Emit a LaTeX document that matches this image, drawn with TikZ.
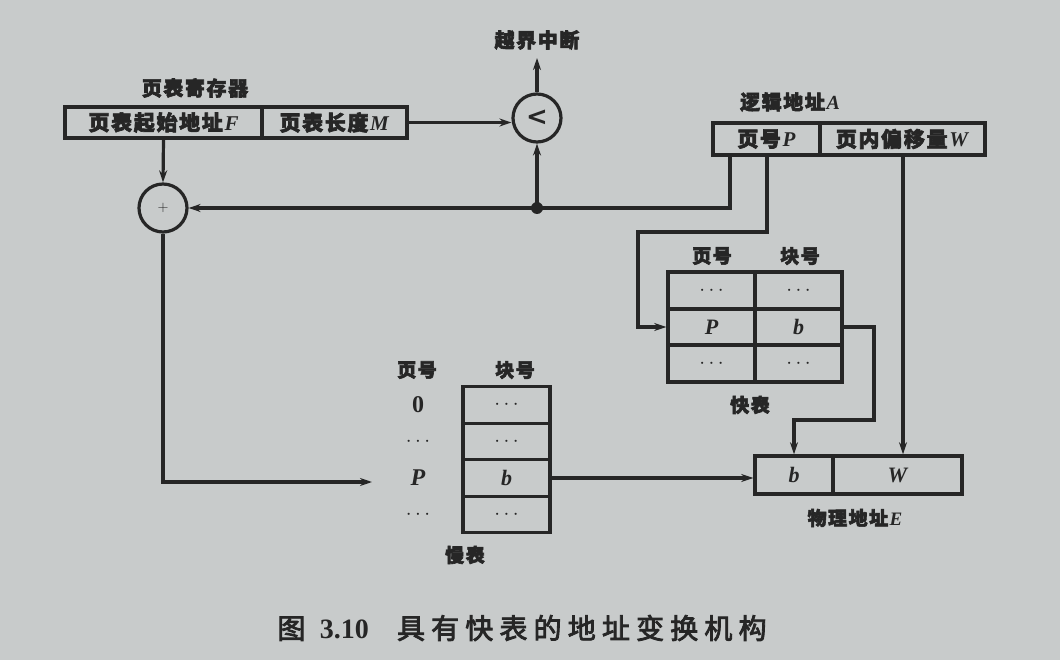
\documentclass[tikz,border=0pt]{standalone}
\usepackage{fontspec}
\setmainfont{Liberation Serif}
\newfontfamily\cjk[FakeBold=3,LetterSpace=8]{Noto Sans CJK SC}
\newfontfamily\cjkcap[FakeBold=3,LetterSpace=22]{Noto Sans CJK SC}
\newfontfamily\symfont{DejaVu Sans}
\usetikzlibrary{arrows.meta}
\definecolor{bg}{HTML}{C8CBCB}
\definecolor{ink}{HTML}{262626}
\tikzset{
  cell/.style={draw=ink, line width=3.4pt, minimum height=#1, inner sep=0pt, text=ink, font=\fontsize{22}{22}\selectfont\bfseries},
  cell/.default=37pt,
  lbl/.style={text=ink, inner sep=0pt, font=\cjk\fontsize{19}{19}\selectfont\bfseries},
  conn/.style={draw=ink, line width=3.2pt},
  arr/.style={conn, -{Stealth[length=12pt,width=8pt]}},
  circ/.style={circle, draw=ink, line width=3.2pt, minimum size=48pt, inner sep=0pt, text=ink}
}
\begin{document}
\begin{tikzpicture}[x=1pt,y=-1pt]
\fill[bg] (0,0) rectangle (1060,660);
\useasboundingbox (0,0) rectangle (1060,660);
% page table register
\node[lbl, font=\cjk\fontsize{20}{20}\selectfont\bfseries] (reglbl) at (195,88) {页表寄存器};
\node[cell=31pt, minimum width=197pt] (regF) at (163.5,122.5) {\cjk\fontsize{21}{21}\selectfont 页表起始地址\textnormal{\bfseries\itshape F}};
\node[cell=31pt, minimum width=145pt] (regM) at (334.5,122.5) {\cjk\fontsize{21}{21}\selectfont 页表长度\textnormal{\bfseries\itshape M}};
% comparator
\node[circ, font=\symfont\fontsize{26}{26}\selectfont\bfseries] (cmp) at (537,118) {<};
\node[lbl, font=\cjk\fontsize{20}{20}\selectfont\bfseries] (intr) at (537,40) {越界中断};
\coordinate (intrend) at (537,58);
% adder
\node[circ, font=\fontsize{14}{14}\selectfont] (plus) at (163,208) {$+$};
\fill[ink] (537,208) circle (6pt);
\coordinate (dot) at (537,208);
% logical address
\node[lbl, font=\cjk\fontsize{20}{20}\selectfont\bfseries] (lalbl) at (790,102) {逻辑地址\textnormal{\bfseries\itshape A}};
\node[cell=32pt, minimum width=107pt] (lP) at (766.5,139) {\cjk\fontsize{21}{21}\selectfont 页号\textnormal{\bfseries\itshape P}};
\node[cell=32pt, minimum width=165pt] (lW) at (902.5,139) {\cjk\fontsize{21}{21}\selectfont 页内偏移量\textnormal{\bfseries\itshape W}};
% fast table
\node[lbl] (fh1) at (712,256) {页号};
\node[lbl] (fh2) at (800,256) {块号};
\node[cell, minimum width=87pt] (f1a) at (711.5,290.5) {$\cdots$};
\node[cell, minimum width=87pt] (f1b) at (798.5,290.5) {$\cdots$};
\node[cell, minimum width=87pt] (fP) at (711.5,327) {\itshape P};
\node[cell, minimum width=87pt] (fb) at (798.5,327) {\itshape b};
\node[cell, minimum width=87pt] (f3a) at (711.5,363.5) {$\cdots$};
\node[cell, minimum width=87pt] (f3b) at (798.5,363.5) {$\cdots$};
\node[lbl] (flbl) at (750,405) {快表};
% slow table
\node[lbl] (sh1) at (417,370) {页号};
\node[lbl] (sh2) at (515,370) {块号};
\node[cell=36.5pt, minimum width=87pt] (s1) at (506.5,405) {$\cdots$};
\node[cell=36.5pt, minimum width=87pt] (s2) at (506.5,441.5) {$\cdots$};
\node[cell=36.5pt, minimum width=87pt] (sb) at (506.5,478) {\itshape b};
\node[cell=36.5pt, minimum width=87pt] (s4) at (506.5,514.5) {$\cdots$};
\node[text=ink, font=\fontsize{24}{24}\selectfont\bfseries] (k0) at (418,405) {0};
\node[text=ink, font=\fontsize{22}{22}\selectfont] (k1) at (418,441.5) {$\cdots$};
\node[text=ink, font=\fontsize{24}{24}\selectfont\bfseries\itshape] (kP) at (418,478) {P};
\node[text=ink, font=\fontsize{22}{22}\selectfont] (k3) at (418,514.5) {$\cdots$};
\node[lbl] (slbl) at (465,555) {慢表};
% physical address
\node[cell=38pt, minimum width=78pt] (pb) at (794,475) {\itshape b};
\node[cell=38pt, minimum width=129pt] (pW) at (897.5,475) {\itshape W};
\node[lbl] (palbl) at (855,518) {物理地址\textnormal{\bfseries\itshape E}};
% caption
\node[text=ink, inner sep=0pt, font=\cjkcap\fontsize{28}{28}\selectfont] (cap) at (522,628) {图\hspace{0.3em}\textnormal{\bfseries 3.10}\hspace{1em}具有快表的地址变换机构};
% connectors
\draw[arr] (regF.south) -- (plus.north);
\draw[arr] (regM.east) -- (cmp.west |- regM.east);
\draw[arr] (cmp.north) -- (intrend);
\draw[arr] (dot) -- (cmp.south);
\draw[arr] (lP.south -| 730,0) |- (plus.east);
\draw[arr] (lP.south -| 767,0) -- (767,232) -- (638,232) |- (fP.west);
\draw[arr] (fb.east) -- (874,327) -- (874,420) -- (794,420) -- (pb.north);
\draw[arr] (lW.south -| 903,0) -- (pW.north -| 903,0);
\coordinate (slowin) at (372,482);
\draw[arr] (plus.south) |- (slowin);
\draw[arr] (sb.east) -- (sb.east -| pb.west);
\end{tikzpicture}
\end{document}
